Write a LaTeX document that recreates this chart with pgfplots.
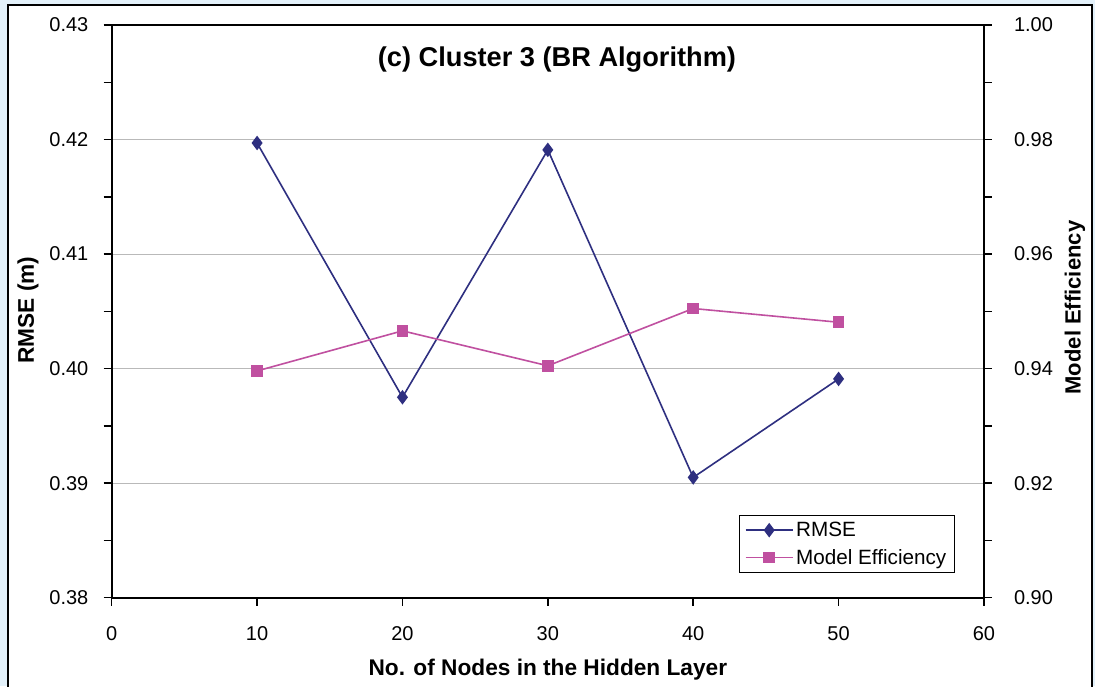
\documentclass[border=0pt]{standalone}
\usepackage{pgfplots}
\pgfplotsset{compat=1.18}
\usepackage{fontspec}
\setmainfont{Liberation Sans}
\definecolor{rmsec}{HTML}{2E2F80}
\definecolor{effc}{HTML}{C050A0}
\definecolor{bgblue}{HTML}{E3F1FA}
\begin{document}
\begin{tikzpicture}[x=0.75pt,y=0.75pt]
\useasboundingbox (-111.7,-88.3) rectangle (983.3,597.7);
\fill[bgblue] (-111.7,-88.3) rectangle (1983.3,597.7);
\fill[white] (-103.7,-100) rectangle (980.3,592.7);
\draw[line width=1.2pt] (-103.7,-100) -- (-103.7,592.7) -- (980.3,592.7) -- (980.3,-100);
\begin{axis}[
  at={(0,0)}, anchor=south west,
  scale only axis, width=654.2pt, height=429.5pt,
  xmin=0, xmax=60, ymin=0.38, ymax=0.43,
  xtick={0,10,...,60}, ytick={0.38,0.39,...,0.43},
  minor y tick num=1,
  axis y line*=left, axis x line*=bottom,
  tick align=outside,
  major tick length=6pt, minor tick length=6pt,
  every tick/.style={black, line width=1.1pt},
  axis line style={line width=1.3pt},
  ymajorgrids, grid style={gray!55, line width=0.7pt},
  /pgf/number format/assume math mode=true,
  tick label style={font=\fontsize{15}{18}\selectfont},
  yticklabel style={/pgf/number format/fixed, /pgf/number format/precision=2, /pgf/number format/fixed zerofill, xshift=-8pt},
  xticklabel style={yshift=-12pt},
  xlabel={No. of Nodes in the Hidden Layer},
  xlabel style={font=\bfseries\fontsize{17}{20}\selectfont, at={(axis description cs:0.5,-0.1262)}, anchor=center},
  ylabel={RMSE (m)},
  ylabel style={font=\bfseries\fontsize{17}{20}\selectfont, at={(axis description cs:-0.0960,0.5024)}, anchor=center},
  clip=false,
]
\addplot[rmsec, line width=1.2pt, mark=diamond*, mark size=4.5pt, mark options={solid, fill=rmsec}]
  coordinates {(10,0.4197) (20,0.3975) (30,0.4191) (40,0.3905) (50,0.3991)};
\node[font=\bfseries\fontsize{20.4}{24}\selectfont] at (axis description cs:0.5105,0.9389) {(c) Cluster 3 (BR Algorithm)};
\end{axis}
\begin{axis}[
  at={(0,0)}, anchor=south west,
  scale only axis, width=654.2pt, height=429.5pt,
  xmin=0, xmax=60, ymin=0.90, ymax=1.00,
  ytick={0.90,0.92,...,1.001},
  minor y tick num=1,
  axis y line*=right, axis x line*=top, xtick=\empty,
  tick align=outside,
  major tick length=6pt, minor tick length=6pt,
  every tick/.style={black, line width=1.1pt},
  axis line style={line width=1.3pt},
  /pgf/number format/assume math mode=true,
  tick label style={font=\fontsize{15}{18}\selectfont},
  yticklabel style={/pgf/number format/fixed, /pgf/number format/precision=2, /pgf/number format/fixed zerofill, xshift=13pt},
  ylabel={Model Efficiency},
  ylabel style={font=\bfseries\fontsize{16.5}{20}\selectfont, at={(axis description cs:1.1043,0.5067)}, anchor=center},
  legend style={at={(axis description cs:0.7191,0.0426)}, anchor=south west, draw=black, line width=0.9pt,
    font=\fontsize{15.5}{18}\selectfont, legend cell align=left, row sep=4pt, inner xsep=4pt, inner ysep=3pt},
  legend image post style={line width=1.2pt},
  legend image code/.code={\draw[mark repeat=2,mark phase=2] plot coordinates {(0cm,0cm) (0.62cm,0cm) (1.24cm,0cm)};},
  clip=false,
]
\addlegendimage{rmsec, line width=1.2pt, mark=diamond*, mark size=4.5pt, mark options={solid, fill=rmsec}}
\addlegendentry{RMSE}
\addplot[effc, line width=1.2pt, mark=square*, mark size=3.8pt, mark options={solid, fill=effc}]
  coordinates {(10,0.9396) (20,0.9466) (30,0.9405) (40,0.9505) (50,0.9481)};
\addlegendentry{Model Efficiency}
\end{axis}
\end{tikzpicture}
\end{document}
